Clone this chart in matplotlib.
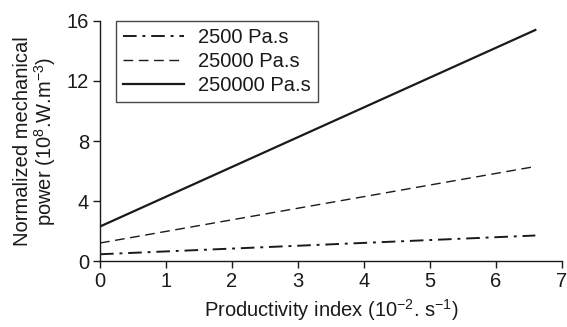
import matplotlib
matplotlib.use("Agg")
import matplotlib.pyplot as plt

plt.rcParams["font.family"] = ["Liberation Sans", "DejaVu Sans"]
plt.rcParams["mathtext.fontset"] = "custom"
plt.rcParams["mathtext.rm"] = "Liberation Sans"

# productivity index (10^-2 s^-1) and normalized power (10^8 W m^-3)
x_pts = [0.0, 6.6]
p_2500 = [0.45, 1.7]
p_25000 = [1.2, 6.3]
p_250000 = [2.3, 15.4]
labels = ["2500 Pa.s", "25000 Pa.s", "250000 Pa.s"]

ink = "#1a1a1a"
fig = plt.figure(figsize=(5.67, 3.27), dpi=100)
ax = fig.add_axes([0.1764, 0.2018, 0.8143, 0.734])

ax.plot(x_pts, p_2500, color=ink, lw=1.4, dashes=(7, 3, 1.5, 3), label=labels[0])
ax.plot(x_pts, p_25000, color=ink, lw=1.0, dashes=(7, 4), label=labels[1])
ax.plot(x_pts, p_250000, color=ink, lw=1.6, label=labels[2])

ax.set_xlim(0, 7)
ax.set_ylim(0, 16)
ax.set_xticks(range(0, 8))
ax.set_yticks([0, 4, 8, 12, 16])
for s in ["top", "right"]:
    ax.spines[s].set_visible(False)
for s in ["left", "bottom"]:
    ax.spines[s].set_color(ink)
    ax.spines[s].set_linewidth(1.0)
ax.tick_params(direction="out", length=5, width=1.0, colors=ink, labelsize=14.5, pad=3)

ax.set_xlabel(r"Productivity index (10$^{-2}$. s$^{-1}$)", fontsize=14.5, color=ink, labelpad=4)
ax.set_ylabel("Normalized mechanical\n" + r"power (10$^{8}$.W.m$^{-3}$)", fontsize=14.5,
              color=ink, labelpad=6, linespacing=1.0)

leg = ax.legend(loc="upper left", bbox_to_anchor=(0.035, 1.0), fontsize=14.5,
                frameon=True, fancybox=False, edgecolor=ink, handlelength=3.0,
                borderaxespad=0.0, labelspacing=0.25, handletextpad=0.7,
                borderpad=0.35)
leg.get_frame().set_linewidth(1.0)
for t in leg.get_texts():
    t.set_color(ink)

fig.savefig("out.png", dpi=100)
